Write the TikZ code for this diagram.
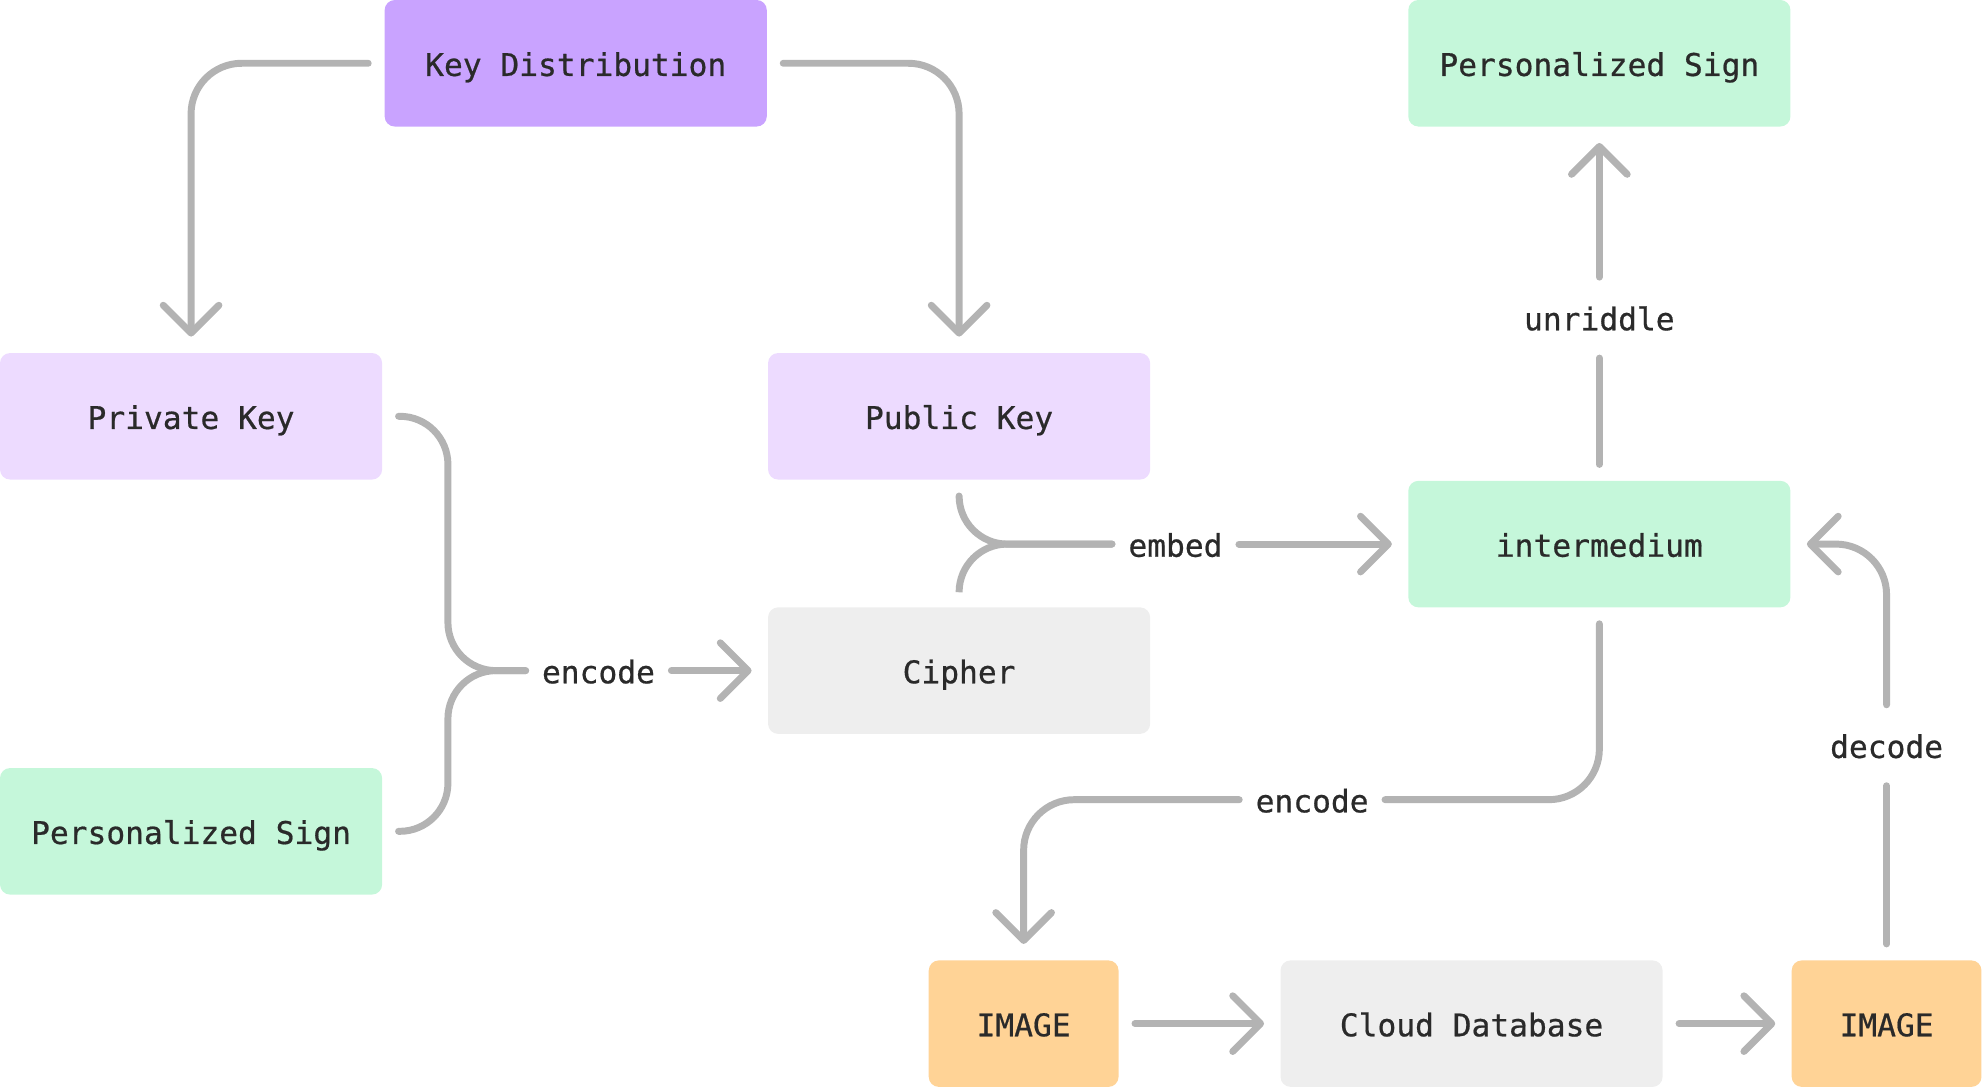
\documentclass[tikz,border=0pt]{standalone}
\usepackage{fontspec}
\usepackage{xcolor}
\usepackage{tikz}
\usetikzlibrary{arrows.meta}
\newfontfamily\diagfont[FakeBold=0.6]{DejaVu Sans Mono}
\definecolor{ink}{HTML}{2A2A2A}
\definecolor{wire}{HTML}{B3B3B3}
\definecolor{kdcol}{HTML}{C9A3FF}
\definecolor{lilac}{HTML}{EDDBFF}
\definecolor{mint}{HTML}{C5F7DA}
\definecolor{ash}{HTML}{EEEEEE}
\definecolor{amber}{HTML}{FFD396}
\tikzset{
  >={Straight Barb[length=22pt,width=44pt,round]},
  box/.style={rounded corners=8pt, inner sep=0pt, outer sep=13pt,
    minimum width=302pt, minimum height=100pt, text=ink,
    font=\diagfont\fontsize{24.7}{30}\selectfont, text height=22pt, text depth=2pt},
  smallbox/.style={box, minimum width=150pt},
  lbl/.style={text=ink, font=\diagfont\fontsize{24.7}{30}\selectfont,
    inner xsep=0pt, inner ysep=7pt, outer sep=13pt, text height=22pt, text depth=2pt},
  wireline/.style={draw=wire, line width=5.5pt, line cap=round, rounded corners=40pt}
}
\begin{document}
\begin{tikzpicture}[x=1pt,y=-1pt]
  \useasboundingbox (0,0) rectangle (1568,860);

  \node[box, fill=kdcol] (kd) at (455,50) {Key Distribution};
  \node[box, fill=lilac] (privk) at (151,329) {Private Key};
  \node[box, fill=lilac] (pubk) at (758,329) {Public Key};
  \node[box, fill=ash] (cipher) at (758,530) {Cipher};
  \node[box, fill=mint] (signL) at (151,657) {Personalized Sign};
  \node[box, fill=mint] (signR) at (1264,50) {Personalized Sign};
  \node[box, fill=mint] (inter) at (1264,430) {intermedium};
  \node[smallbox, fill=amber] (imgL) at (809,809) {IMAGE};
  \node[box, fill=ash] (cloud) at (1163,809) {Cloud Database};
  \node[smallbox, fill=amber] (imgR) at (1491,809) {IMAGE};

  \node[lbl] (encA) at (473,530) {encode};
  \node[lbl] (embed) at (929,430) {embed};
  \node[lbl] (unr) at (1264,251) {unriddle};
  \node[lbl] (encB) at (1037,632) {encode};
  \node[lbl] (dec) at (1491,589) {decode};
  \coordinate (forkL) at (354,530);

  % key distribution
  \draw[wireline, ->] (kd.west) -| (privk.north);
  \draw[wireline, ->] (kd.east) -| (pubk.north);

  % encode into cipher
  \draw[wireline, rounded corners=38pt] (privk.east) -| (forkL) -- (encA.west);
  \draw[wireline, rounded corners=38pt] (signL.east) -| (forkL) -- (encA.west);
  \draw[wireline, ->] (encA.east) -- (cipher.west);

  % embed
  \draw[wireline, rounded corners=38pt] (pubk.south) |- (embed.west);
  \draw[wireline, rounded corners=38pt] (cipher.north) |- (embed.west);
  \draw[wireline, ->] (embed.east) -- (inter.west);

  % unriddle
  \draw[wireline] (inter.north) -- (unr.south);
  \draw[wireline, ->] (unr.north) -- (signR.south);

  % encode into image
  \draw[wireline] (inter.south) |- (encB.east);
  \draw[wireline, ->] (encB.west) -| (imgL.north);

  \draw[wireline, ->] (imgL.east) -- (cloud.west);
  \draw[wireline, ->] (cloud.east) -- (imgR.west);

  % decode
  \draw[wireline] (imgR.north) -- (dec.south);
  \draw[wireline, ->] (dec.north) |- (inter.east);
\end{tikzpicture}
\end{document}
